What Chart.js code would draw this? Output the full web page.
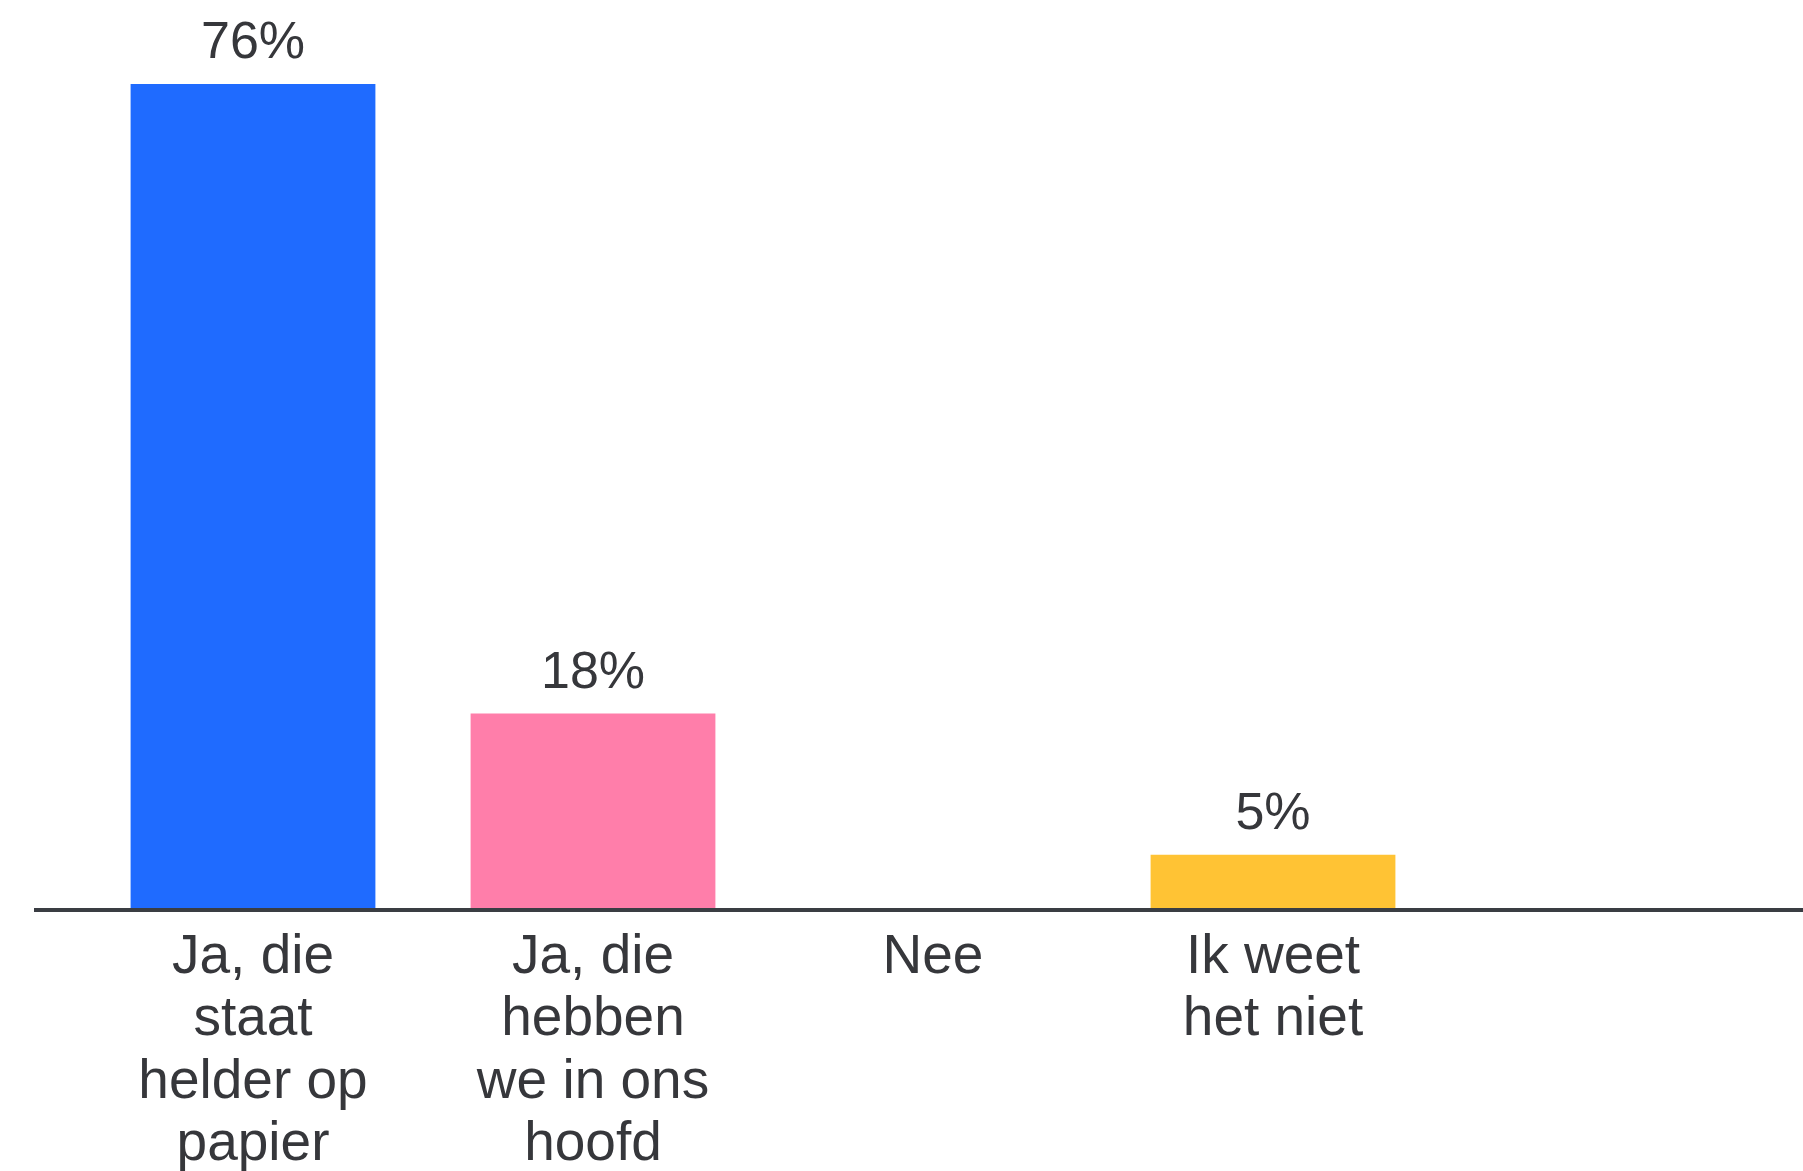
<!DOCTYPE html>
<html>
<head>
<meta charset="utf-8">
<style>
  html, body { margin: 0; padding: 0; background: #ffffff; }
  #wrap { width: 1803px; height: 1171px; }
</style>
<script src="https://cdn.jsdelivr.net/npm/chart.js@4.4.1/dist/chart.umd.min.js"></script>
</head>
<body>
<div id="wrap"><canvas id="c" width="1803" height="1171"></canvas></div>
<script>
const categories = [
  ["Ja, die", "staat", "helder op", "papier"],
  ["Ja, die", "hebben", "we in ons", "hoofd"],
  ["Nee"],
  ["Ik weet", "het niet"],
  [""]
];
const values = [76, 18, 0, 5, null];
const valueLabels = ["76%", "18%", "", "5%", ""];
const barColors = ["#1f6bff", "#ff7eaa", "#ffffff", "#ffc334", "#ffffff"];

const textColor = "#36373b";

const valueLabelPlugin = {
  id: "valueLabels",
  afterDatasetsDraw(chart) {
    const ctx = chart.ctx;
    const meta = chart.getDatasetMeta(0);
    ctx.save();
    ctx.font = "52px 'Liberation Sans', Arial, sans-serif";
    ctx.fillStyle = textColor;
    ctx.textAlign = "center";
    ctx.textBaseline = "bottom";
    meta.data.forEach((bar, i) => {
      if (!valueLabels[i]) return;
      ctx.fillText(valueLabels[i], bar.x, bar.y - 14);
    });
    ctx.restore();
  }
};

const axisLinePlugin = {
  id: "axisLine",
  afterDatasetsDraw(chart) {
    const ctx = chart.ctx;
    const y = chart.scales.y.getPixelForValue(0);
    ctx.save();
    ctx.strokeStyle = "#3a3d43";
    ctx.lineWidth = 4;
    ctx.beginPath();
    ctx.moveTo(34, y + 1);
    ctx.lineTo(chart.width, y + 1);
    ctx.stroke();
    ctx.restore();
  }
};

new Chart(document.getElementById("c"), {
  type: "bar",
  data: {
    labels: categories,
    datasets: [{
      data: values,
      backgroundColor: barColors,
      borderWidth: 0,
      barPercentage: 0.72,
      categoryPercentage: 1.0
    }]
  },
  options: {
    responsive: false,
    animation: false,
    devicePixelRatio: 1,
    layout: { padding: { top: 84, left: 83, right: 20, bottom: 0 } },
    plugins: {
      legend: { display: false },
      tooltip: { enabled: false }
    },
    scales: {
      x: {
        grid: { display: false, drawTicks: false },
        border: { display: false },
        ticks: {
          color: textColor,
          font: { family: "'Liberation Sans', Arial, sans-serif", size: 55, lineHeight: 1.13 },
          padding: 18,
          maxRotation: 0,
          autoSkip: false
        },
        afterFit(scale) { scale.height = 262; }
      },
      y: {
        display: false,
        min: 0,
        max: 76
      }
    }
  },
  plugins: [valueLabelPlugin, axisLinePlugin]
});
</script>
</body>
</html>
